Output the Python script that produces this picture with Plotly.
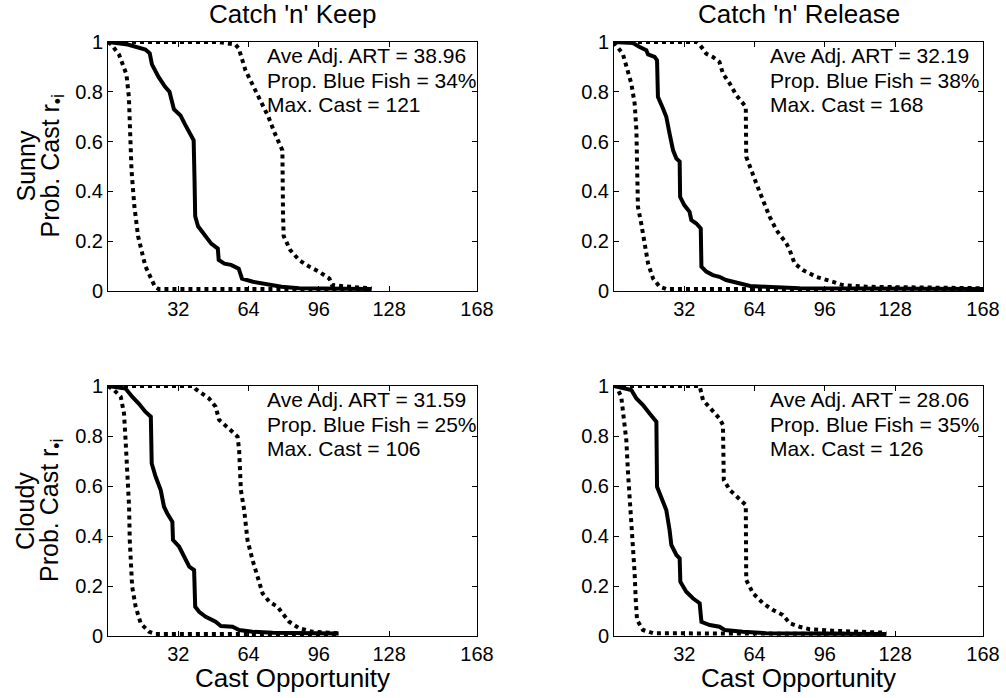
import plotly.graph_objects as go

# ---- Survival curves: probability that cast r_.i is still reached ----
# Sunny, Catch 'n' Keep
SK_MID_X = [0, 9, 17, 19, 20, 23, 26, 28, 30, 33, 35, 37, 39, 39.4, 39.7, 41, 44, 47, 50, 50.4,
            53, 56, 59.5, 61, 66, 72, 79, 87, 102, 120]
SK_MID_P = [1, 0.99, 0.97, 0.955, 0.91, 0.86, 0.82, 0.80, 0.73, 0.705, 0.67, 0.64, 0.605, 0.445,
            0.30, 0.26, 0.225, 0.19, 0.17, 0.125, 0.11, 0.105, 0.09, 0.05, 0.037, 0.028, 0.017,
            0.011, 0.008, 0.008]
SK_LO_X = [0, 1.5, 5, 8.4, 9.5, 10, 10.7, 12, 13.7, 17, 21.4, 23, 120]
SK_LO_P = [1, 0.99, 0.95, 0.87, 0.78, 0.645, 0.485, 0.34, 0.22, 0.10, 0.017, 0.008, 0.008]
SK_HI_X = [0, 50, 58, 59.5, 62.6, 65.6, 70, 73, 76, 79, 79.4, 79.7, 80, 83, 87, 91.6, 96, 100.8,
           102, 110, 120]
SK_HI_P = [1, 1, 0.99, 0.975, 0.886, 0.833, 0.753, 0.70, 0.632, 0.58, 0.565, 0.30, 0.22, 0.164,
           0.124, 0.098, 0.078, 0.05, 0.024, 0.017, 0.011]

# Sunny, Catch 'n' Release
SR_MID_X = [0, 8.6, 11.7, 14.7, 15.5, 18.5, 19.6, 20, 22.3, 23.8, 25.3, 26.9, 28.4, 29.9, 30.1, 32,
            34.4, 35.2, 37.5, 39.5, 39.8, 42, 45, 48, 51, 57, 62, 69, 84.5, 168]
SR_MID_P = [1, 0.996, 0.98, 0.967, 0.95, 0.94, 0.926, 0.78, 0.733, 0.70, 0.632, 0.565, 0.532, 0.52,
            0.378, 0.345, 0.318, 0.285, 0.271, 0.251, 0.098, 0.078, 0.064, 0.057, 0.044, 0.031,
            0.02, 0.017, 0.011, 0.008]
SR_LO_X = [0, 0.3, 4, 6.4, 7.9, 9.4, 10.2, 10.5, 10.9, 12.4, 14, 15.5, 17.8, 20.8, 23.8, 168]
SR_LO_P = [1, 0.993, 0.953, 0.886, 0.833, 0.753, 0.646, 0.512, 0.338, 0.271, 0.19, 0.111, 0.05,
           0.017, 0.008, 0.008]
SR_HI_X = [0, 37.5, 39, 42, 45, 48, 49.6, 52.7, 55.7, 58.7, 60, 60.2, 61.8, 64.8, 67.8, 70.9, 73.9,
           78.5, 80, 82.2, 86, 92, 99.7, 104, 115, 168]
SR_HI_P = [1, 1, 0.99, 0.953, 0.94, 0.92, 0.873, 0.833, 0.786, 0.753, 0.74, 0.539, 0.499, 0.432,
           0.365, 0.298, 0.245, 0.191, 0.164, 0.111, 0.084, 0.057, 0.037, 0.024, 0.017, 0.011]

# Cloudy, Catch 'n' Keep
CK_MID_X = [0, 8, 11, 14, 17, 19.5, 19.9, 21.7, 24, 25.5, 27, 29.3, 29.6, 32.4, 34.7, 37, 39.2,
            39.7, 41.5, 44.5, 49, 51.4, 56.7, 59.7, 65.8, 75, 105]
CK_MID_P = [1, 0.99, 0.957, 0.93, 0.897, 0.877, 0.69, 0.637, 0.584, 0.517, 0.49, 0.457, 0.384,
            0.357, 0.317, 0.277, 0.264, 0.117, 0.097, 0.077, 0.057, 0.04, 0.037, 0.024, 0.017,
            0.013, 0.01]
CK_LO_X = [0, 2.7, 5.8, 7.3, 8, 8.8, 9.6, 9.9, 10.3, 11, 12.6, 14.9, 18.7, 21.7, 105]
CK_LO_P = [1, 0.984, 0.957, 0.89, 0.784, 0.65, 0.517, 0.384, 0.277, 0.197, 0.117, 0.05, 0.017,
           0.008, 0.008]
CK_HI_X = [0, 38.5, 40, 46, 49, 50.6, 55, 59, 59.7, 60.5, 62, 63.5, 65.8, 68, 70.4, 73.4, 77.2,
           79.5, 82.5, 87, 93, 105]
CK_HI_P = [1, 1, 0.987, 0.95, 0.917, 0.864, 0.83, 0.797, 0.744, 0.584, 0.504, 0.384, 0.304, 0.237,
           0.17, 0.137, 0.117, 0.09, 0.057, 0.031, 0.017, 0.011]

# Cloudy, Catch 'n' Release
CR_MID_X = [0, 7.9, 10.2, 13.2, 16.2, 19.3, 19.6, 21.5, 23.8, 25.3, 26.1, 28.4, 29.9, 30.2, 32.9,
            35.9, 39, 39.8, 43.6, 48, 50.4, 58.7, 69.3, 124]
CR_MID_P = [1, 0.984, 0.95, 0.924, 0.89, 0.857, 0.597, 0.557, 0.504, 0.424, 0.364, 0.324, 0.311,
            0.217, 0.177, 0.151, 0.131, 0.057, 0.044, 0.037, 0.024, 0.017, 0.011, 0.008]
CR_LO_X = [0, 1, 3.3, 4.9, 5.6, 6.4, 7.4, 8.6, 9.4, 9.9, 10.5, 13.2, 17.8, 124]
CR_LO_P = [1, 1, 0.957, 0.85, 0.784, 0.65, 0.517, 0.384, 0.25, 0.144, 0.064, 0.024, 0.011, 0.008]
CR_HI_X = [0, 39, 40.5, 45, 48, 49.6, 50, 52.7, 57.2, 60, 60.2, 63.3, 67.8, 72.4, 76.9, 80, 84.5,
           89, 99.7, 124]
CR_HI_P = [1, 1, 0.944, 0.897, 0.87, 0.844, 0.624, 0.584, 0.544, 0.524, 0.224, 0.171, 0.131,
           0.104, 0.084, 0.051, 0.037, 0.027, 0.021, 0.013]

# Summary statistics per panel (Keep/Sunny, Release/Sunny, Keep/Cloudy, Release/Cloudy)
AVE_ART = ["38.96", "32.19", "31.59", "28.06"]
PROP_BLUE = ["34%", "38%", "25%", "35%"]
MAX_CAST = ["121", "168", "106", "126"]

COL_TITLES = ["Catch 'n' Keep", "Catch 'n' Release"]
ROW_LABELS = ["Sunny", "Cloudy"]
X_TICKS = [32, 64, 96, 128, 168]
Y_TICKS = [0, 0.2, 0.4, 0.6, 0.8, 1]
Y_TICK_TEXT = ["0", "0.2", "0.4", "0.6", "0.8", "1"]

PANELS = [
    (SK_LO_X, SK_LO_P, SK_MID_X, SK_MID_P, SK_HI_X, SK_HI_P),
    (SR_LO_X, SR_LO_P, SR_MID_X, SR_MID_P, SR_HI_X, SR_HI_P),
    (CK_LO_X, CK_LO_P, CK_MID_X, CK_MID_P, CK_HI_X, CK_HI_P),
    (CR_LO_X, CR_LO_P, CR_MID_X, CR_MID_P, CR_HI_X, CR_HI_P),
]

W, H = 1006, 698
FONT = "Arial, Liberation Sans, sans-serif"


def fx(px):
    return px / W


def fy(py):
    return 1 - py / H


# plot-area boxes in pixels: (left, top, right, bottom)
BOXES = [(108, 42, 477, 291), (614, 42, 983, 291), (108, 386, 477, 636), (614, 386, 983, 636)]

fig = go.Figure()
layout = dict(
    width=W, height=H, margin=dict(l=0, r=0, t=0, b=0, pad=0, autoexpand=False),
    paper_bgcolor="white", plot_bgcolor="white", showlegend=False,
    font=dict(family=FONT, size=20, color="black"),
)

annotations = []
for i, (box, curves) in enumerate(zip(BOXES, PANELS)):
    sfx = "" if i == 0 else str(i + 1)
    xa, ya = "x" + sfx, "y" + sfx
    lo_x, lo_p, mid_x, mid_p, hi_x, hi_p = curves
    for xs, ps, dash in ((lo_x, lo_p, "dot"), (hi_x, hi_p, "dot"), (mid_x, mid_p, "solid")):
        fig.add_trace(go.Scatter(x=xs, y=ps, mode="lines", xaxis=xa, yaxis=ya,
                                 line=dict(color="black", width=4, dash=dash),
                                 hoverinfo="skip"))
    l, t, r, b = box
    common = dict(showline=True, linecolor="black", linewidth=1, mirror="ticks",
                  ticks="inside", ticklen=5, tickcolor="black", showgrid=False,
                  zeroline=False, automargin=False,
                  tickfont=dict(family=FONT, size=20, color="black"))
    layout["xaxis" + sfx] = dict(domain=[fx(l), fx(r)], anchor=ya, range=[0, 168],
                                 tickvals=X_TICKS, ticklabelstandoff=0, **common)
    layout["yaxis" + sfx] = dict(domain=[fy(b), fy(t)], anchor=xa, range=[0, 1],
                                 tickvals=Y_TICKS, ticktext=Y_TICK_TEXT,
                                 ticklabelstandoff=0, **common)

    # statistics block in the upper right of each panel
    lines = [f"Ave Adj. ART = {AVE_ART[i]}",
             f"Prop. Blue Fish = {PROP_BLUE[i]}",
             f"Max. Cast = {MAX_CAST[i]}"]
    tx = l + 157 if i % 2 == 0 else l + 154
    for k, txt in enumerate(lines):
        annotations.append(dict(text=txt, xref="paper", yref="paper",
                                x=fx(tx), y=fy(t + 13.5 + 24.5 * k),
                                xanchor="left", yanchor="middle", showarrow=False,
                                font=dict(family=FONT, size=21, color="black")))

# column titles
for j, title in enumerate(COL_TITLES):
    l, t, r, b = BOXES[j]
    annotations.append(dict(text=title, xref="paper", yref="paper", x=fx((l + r) / 2),
                            y=fy(14), xanchor="center", yanchor="middle", showarrow=False,
                            font=dict(family=FONT, size=26, color="black")))

# x-axis titles on bottom row
for j in (2, 3):
    l, t, r, b = BOXES[j]
    annotations.append(dict(text="Cast Opportunity", xref="paper", yref="paper",
                            x=fx((l + r) / 2), y=fy(678), xanchor="center", yanchor="middle",
                            showarrow=False, font=dict(family=FONT, size=26, color="black")))

# row labels (two rotated lines each)
for j, row in enumerate(ROW_LABELS):
    l, t, r, b = BOXES[2 * j]
    yc = (t + b) / 2
    annotations.append(dict(text=row, xref="paper", yref="paper", x=fx(25), y=fy(yc),
                            xanchor="center", yanchor="middle", textangle=-90,
                            showarrow=False, font=dict(family=FONT, size=25, color="black")))
    annotations.append(dict(text="Prob. Cast r<sub>•i</sub>", xref="paper", yref="paper",
                            x=fx(51), y=fy(yc), xanchor="center", yanchor="middle",
                            textangle=-90, showarrow=False,
                            font=dict(family=FONT, size=25, color="black")))

layout["annotations"] = annotations
fig.update_layout(**layout)
fig.write_html("out.html")
